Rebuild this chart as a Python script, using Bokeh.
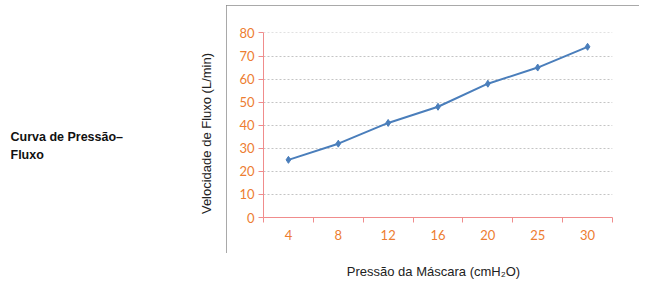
from bokeh.plotting import figure
from bokeh.layouts import row, column
from bokeh.models import Range1d, FixedTicker, Label, ColumnDataSource, Spacer
from bokeh.embed import file_html
from bokeh.resources import INLINE

categories = ["4", "8", "12", "16", "20", "25", "30"]
flow = [25, 32, 41, 48, 58, 65, 74]
y_ticks = [0, 10, 20, 30, 40, 50, 60, 70, 80]

title_left_1 = "Curva de Pressão–"
title_left_2 = "Fluxo"
y_title = "Velocidade de Fluxo (L/min)"
x_title = "Pressão da Máscara (cmH₂O)"

n = len(categories)
centers = [i + 0.5 for i in range(n)]
source = ColumnDataSource(dict(x=centers, y=flow))

AXIS = "#F08C8C"
ORANGE = "#ED7D31"
BLUE = "#4A7EBB"
BOX = "#8C8C8C"


def blank(w, h):
    f = figure(width=w, height=h, x_range=Range1d(0, w), y_range=Range1d(0, h),
               x_axis_location=None, y_axis_location=None,
               output_backend="svg", toolbar_location=None, min_border=0)
    f.outline_line_color = None
    f.xgrid.grid_line_color = None
    f.ygrid.grid_line_color = None
    f.background_fill_color = "white"
    f.border_fill_color = "white"
    return f


# ---- left panel: side title + y axis title
L = blank(226, 282)
L.add_layout(Label(x=10, y=129, x_units="canvas", y_units="canvas", text=title_left_1,
                   text_align="left", text_baseline="top", text_font="Liberation Sans",
                   text_font_size="12.5px", text_font_style="bold", text_color="#111111"))
L.add_layout(Label(x=10, y=147, x_units="canvas", y_units="canvas", text=title_left_2,
                   text_align="left", text_baseline="top", text_font="Liberation Sans",
                   text_font_size="12.5px", text_font_style="bold", text_color="#111111"))
L.add_layout(Label(x=206, y=133, x_units="canvas", y_units="canvas", text=y_title,
                   angle=90, angle_units="deg", text_align="center", text_baseline="middle",
                   text_font="Liberation Sans", text_font_size="13px", text_color="#222222"))

# ---- main chart
M = figure(width=413, height=248, x_range=Range1d(0, n), y_range=Range1d(0, 80.2),
           output_backend="svg", toolbar_location=None,
           min_border_left=37, min_border_right=27, min_border_top=27, min_border_bottom=36)
M.outline_line_color = None
M.background_fill_color = "white"
M.border_fill_color = "white"
M.styles = {"outline": "1px solid " + BOX, "outline-offset": "-1px"}

xa = M.xaxis[0]
xa.ticker = FixedTicker(ticks=centers, minor_ticks=list(range(n + 1)))
xa.major_label_overrides = {c: lab for c, lab in zip(centers, categories)}
xa.major_tick_line_color = None
xa.major_tick_out = 5
xa.major_tick_in = 0
xa.minor_tick_out = 5
xa.minor_tick_in = 0
xa.minor_tick_line_color = AXIS
xa.axis_line_color = AXIS
xa.major_label_text_color = ORANGE
xa.major_label_text_font = "Lato"
xa.major_label_text_font_size = "13px"
xa.major_label_standoff = 7

ya = M.yaxis[0]
ya.ticker = FixedTicker(ticks=y_ticks, minor_ticks=[])
ya.major_tick_out = 5
ya.major_tick_in = 0
ya.major_tick_line_color = AXIS
ya.axis_line_color = AXIS
ya.major_label_text_color = ORANGE
ya.major_label_text_font = "Lato"
ya.major_label_text_font_size = "13px"
ya.major_label_standoff = 4

M.xgrid.grid_line_color = None
M.ygrid.grid_line_color = "#C4C4C4"
M.ygrid.grid_line_dash = "2 2"
M.ygrid.grid_line_width = 1

M.line("x", "y", source=source, line_color=BLUE, line_width=2)
M.scatter("x", "y", source=source, marker="diamond", size=7, fill_color=BLUE, line_color=BLUE)

# ---- x axis title strip
T = blank(413, 29)
T.add_layout(Label(x=207, y=18, x_units="canvas", y_units="canvas", text=x_title,
                   text_align="center", text_baseline="middle", text_font="Liberation Sans",
                   text_font_size="13px", text_color="#222222"))

layout = row(L, column(Spacer(width=413, height=5), M, T, spacing=0), spacing=0)

open("out.html", "w").write(file_html(layout, INLINE))
